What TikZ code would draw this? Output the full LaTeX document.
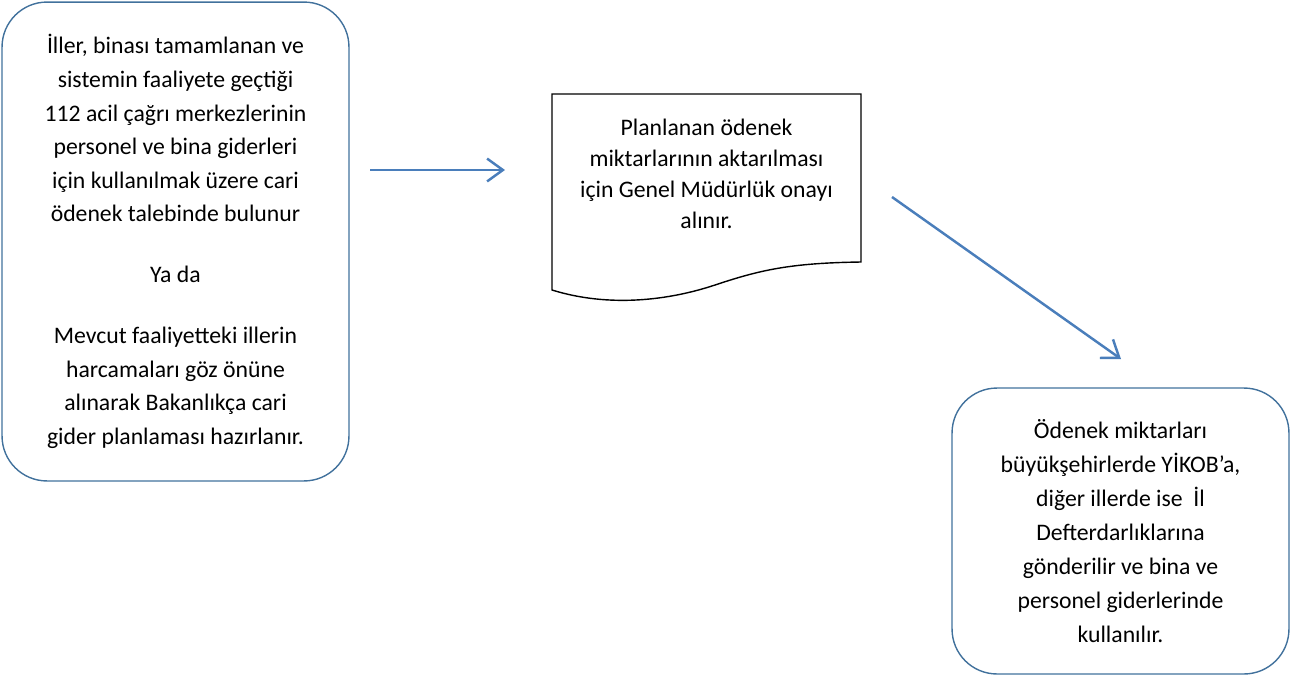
\documentclass[tikz,border=0pt]{standalone}
\usepackage{fontspec}
\setmainfont{Carlito}
\usetikzlibrary{arrows.meta}
\definecolor{okmavi}{HTML}{4A7EBB}
\definecolor{kenarmavi}{HTML}{41719C}
\tikzset{
	yazi/.style={align=center, inner sep=0pt, font=\fontsize{13.5}{19.1}\selectfont},
	kutu/.style={yazi, draw=kenarmavi, line width=0.8pt, rounded corners=0.9cm},
	belge/.style={draw=black, line width=0.8pt},
	ok/.style={draw=okmavi, line width=1.4pt, -{Straight Barb[length=9pt,width=13pt]}}
}
\begin{document}
\begin{tikzpicture}[x=0.02cm,y=-0.02cm]
	\useasboundingbox (0,0) rectangle (1291,677);
	\node[kutu, minimum width=6.94cm, minimum height=9.58cm] (talep) at (175.5,241.5) {İller, binası tamamlanan ve\\ sistemin faaliyete geçtiği\\ 112 acil çağrı merkezlerinin\\ personel ve bina giderleri\\ için kullanılmak üzere cari\\ ödenek talebinde bulunur\\[15.6pt] Ya da\\[15.6pt] Mevcut faaliyetteki illerin\\ harcamaları göz önüne\\ alınarak Bakanlıkça cari\\ gider planlaması hazırlanır.};
	\node[yazi, font=\fontsize{13.5}{17.6}\selectfont] (onay) at (706.5,174) {Planlanan ödenek\\ miktarlarının aktarılması\\ için Genel Müdürlük onayı\\ alınır.};
	\node[kutu, font=\fontsize{13.5}{19.4}\selectfont, minimum width=6.74cm, minimum height=5.72cm] (aktarim) at (1120.5,531) {Ödenek miktarları\\ büyükşehirlerde YİKOB’a,\\ diğer illerde ise\ \ İl\\ Defterdarlıklarına\\ gönderilir ve bina ve\\ personel giderlerinde\\ kullanılır.};
	
	\draw[belge] (552,290) -- (552,94) -- (861,94) -- (861,262)
		.. controls (790,263) and (760,270) .. (715,285)
		.. controls (670,300) and (610,308) .. (552,290) -- cycle;
	
	\coordinate (ok1a) at (370,170);
	\coordinate (ok1b) at (505,170);
	\coordinate (ok2a) at (892,197);
	\coordinate (ok2b) at (1121,359);
	\draw[ok] (ok1a) -- (ok1b);
	\draw[ok] (ok2a) -- (ok2b);
\end{tikzpicture}
\end{document}
